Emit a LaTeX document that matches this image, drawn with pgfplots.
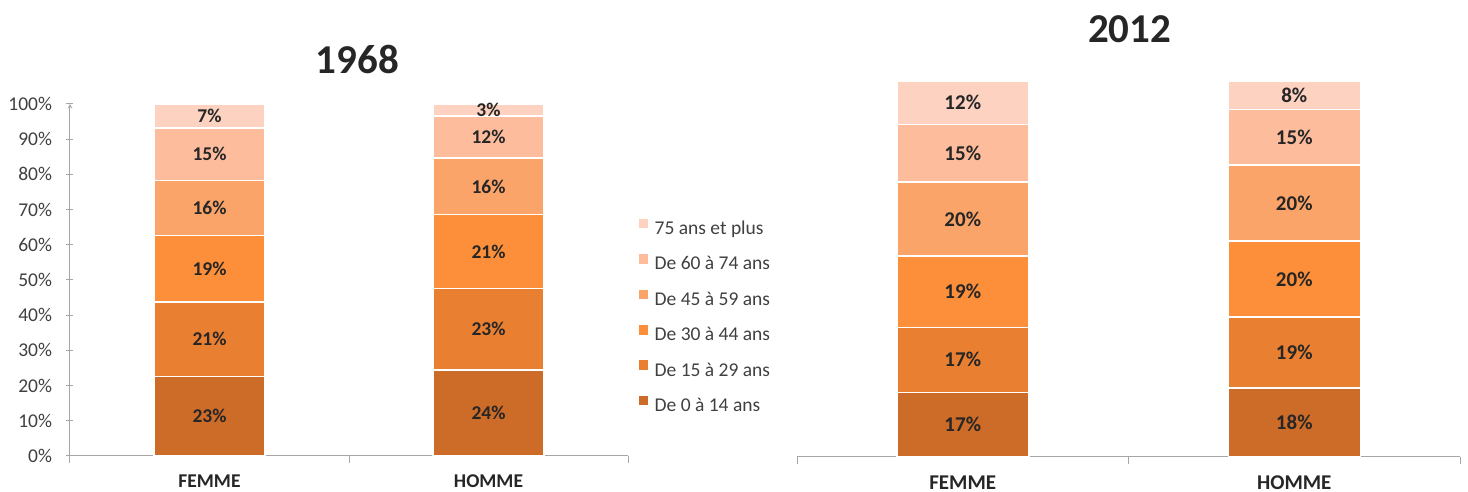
\documentclass[border=0pt]{standalone}
\usepackage{pgfplots}
\usepackage{pgfplotstable}
\pgfplotsset{compat=1.18}
\usepackage{fontspec}
\setmainfont{Carlito}

\definecolor{age0}{HTML}{CD6B28}
\definecolor{age15}{HTML}{E97F31}
\definecolor{age30}{HTML}{FD8F3A}
\definecolor{age45}{HTML}{FBA46A}
\definecolor{age60}{HTML}{FDBC9C}
\definecolor{age75}{HTML}{FDD2C1}
\definecolor{axisgray}{HTML}{A6A6A6}
\definecolor{txt}{HTML}{404040}
\definecolor{dark}{HTML}{262626}

% Part of each age group in the population (%), by sex
\pgfplotstableread{
idx a0 a15 a30 a45 a60 a75
0 22.6 21.2 18.9 15.6 14.9 6.8
1 24.4 23.2 21.0 16.0 12.0 3.4
}\anneeAvant

\pgfplotstableread{
idx a0 a15 a30 a45 a60 a75
0 17.2 17.3 19.0 19.6 15.3 11.6
1 18.4 18.8 20.2 20.2 14.8 7.6
}\anneeApres

\pgfplotsset{
  pyramide/.style={
    ybar stacked, scale only axis,
    /pgf/number format/assume math mode=true,
    ymin=0, ymax=100, xmin=-0.5, xmax=1.5,
    axis x line=bottom,
    axis line style={-, draw=axisgray, line width=1pt},
    every tick/.style={draw=axisgray, line width=1pt},
    tick align=outside,
    major tick length=7pt,
    xtick={-0.5,0.5,1.5}, xticklabels={},
    extra x ticks={0,1},
    extra x tick labels={FEMME,HOMME},
    extra x tick style={major tick length=0pt},
    visualization depends on=rawy \as \rawy,
    nodes near coords={\pgfmathprintnumber[fixed,precision=0]{\rawy}\%},
    every node near coord/.append style={anchor=center, text=dark},
  },
  tranche/.style={fill=#1, draw=white, line width=1.5pt},
}

\begin{document}
\begin{tikzpicture}
\useasboundingbox (0pt,0pt) rectangle (1468pt,492pt);

% ---- 1968 ----
\begin{axis}[pyramide,
  at={(70pt,36pt)}, anchor=south west,
  width=558pt, height=352pt,
  bar width=111pt,
  axis y line=left,
  ytick={0,10,...,100},
  yticklabel={\pgfmathprintnumber{\tick}\%},
  yticklabel style={font=\fontsize{19.5}{23}\selectfont, text=txt, xshift=-11pt},
  xticklabel style={font=\fontsize{19.5}{23}\selectfont\bfseries, text=dark, yshift=-15pt},
  every node near coord/.append style={font=\fontsize{19.5}{23}\selectfont\bfseries},
  reverse legend,
  legend cell align=left,
  legend image code/.code={\fill[#1] (0pt,0.5pt) rectangle (11pt,11.5pt);},
  legend style={at={(1.0161,0.679)}, anchor=north west, draw=none, fill=none,
    inner sep=0pt, row sep=14.2pt, column sep=5pt,
    font=\fontsize{19.5}{23}\selectfont, text=txt,
    nodes={inner sep=0pt, text height=14pt, text depth=4pt}},
]
\addplot[tranche=age0]  table[x=idx, y=a0]  {\anneeAvant};
\addplot[tranche=age15] table[x=idx, y=a15] {\anneeAvant};
\addplot[tranche=age30] table[x=idx, y=a30] {\anneeAvant};
\addplot[tranche=age45] table[x=idx, y=a45] {\anneeAvant};
\addplot[tranche=age60] table[x=idx, y=a60] {\anneeAvant};
\addplot[tranche=age75] table[x=idx, y=a75] {\anneeAvant};
\legend{De 0 à 14 ans, De 15 à 29 ans, De 30 à 44 ans, De 45 à 59 ans, De 60 à 74 ans, 75 ans et plus}
\end{axis}

% ---- 2012 ----
\begin{axis}[pyramide,
  at={(797pt,35pt)}, anchor=south west,
  width=663pt, height=376pt,
  bar width=132pt,
  axis y line=none,
  ytick=\empty,
  xticklabel style={font=\fontsize{21}{25}\selectfont\bfseries, text=dark, yshift=-15pt},
  every node near coord/.append style={font=\fontsize{21}{25}\selectfont\bfseries},
]
\addplot[tranche=age0]  table[x=idx, y=a0]  {\anneeApres};
\addplot[tranche=age15] table[x=idx, y=a15] {\anneeApres};
\addplot[tranche=age30] table[x=idx, y=a30] {\anneeApres};
\addplot[tranche=age45] table[x=idx, y=a45] {\anneeApres};
\addplot[tranche=age60] table[x=idx, y=a60] {\anneeApres};
\addplot[tranche=age75] table[x=idx, y=a75] {\anneeApres};
\end{axis}

\node[font=\fontsize{41}{48}\selectfont\bfseries, text=dark] at (357.5pt,432.6pt) {1968};
\node[font=\fontsize{41}{48}\selectfont\bfseries, text=dark] at (1129.6pt,462.4pt) {2012};
\end{tikzpicture}
\end{document}
